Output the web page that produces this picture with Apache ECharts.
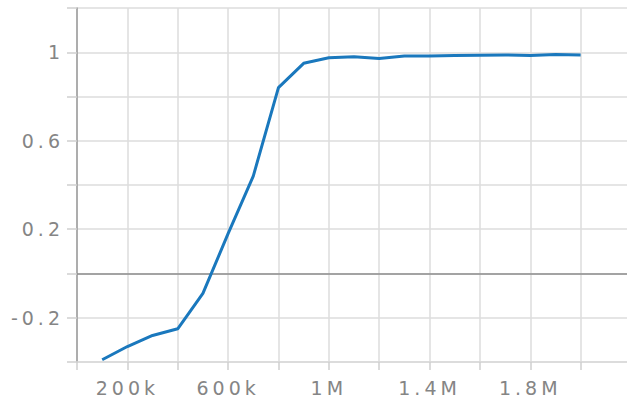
<!DOCTYPE html>
<html>
<head>
<meta charset="utf-8">
<script src="https://cdn.jsdelivr.net/npm/echarts@6/dist/echarts.min.js"></script>
<style>
  html, body { margin: 0; padding: 0; background: #fff; }
  #chart { width: 627px; height: 405px; }
  #chart svg text { letter-spacing: 4px; }
</style>
</head>
<body>
<div id="chart"></div>
<script>
// steps and values
const steps = [100000, 200000, 300000, 400000, 500000, 600000, 700000, 800000, 900000, 1000000,
  1100000, 1200000, 1300000, 1400000, 1500000, 1600000, 1700000, 1800000, 1900000, 2000000]
const values = [-0.39, -0.33, -0.28, -0.25, -0.09, 0.18, 0.44, 0.84, 0.95, 0.975,
  0.98, 0.972, 0.983, 0.983, 0.985, 0.987, 0.988, 0.985, 0.99, 0.988]
const xLabels = { 200000: '200k', 600000: '600k', 1000000: '1M', 1400000: '1.4M', 1800000: '1.8M' }
const yLabels = { '10': '1', '6': '0.6', '2': '0.2', '-2': '-0.2' }

const chart = echarts.init(document.getElementById('chart'), undefined, { renderer: 'svg' })

const labelFont = {
  color: '#858585',
  fontFamily: 'DejaVu Sans',
  fontSize: 19
}

chart.setOption({
  animation: false,
  backgroundColor: '#fff',
  grid: { left: 77, top: 8, right: -4, bottom: 43, outerBoundsMode: 'none' },
  xAxis: {
    type: 'value',
    min: 0,
    max: 2200000,
    interval: 200000,
    axisLine: { onZero: false, lineStyle: { color: '#d9d9d9', width: 1.5 } },
    axisTick: { show: true, length: 8, lineStyle: { color: '#cfcfcf', width: 1.5 } },
    splitLine: { show: true, lineStyle: { color: '#dcdcdc', width: 1.5 } },
    axisLabel: {
      ...labelFont,
      margin: 16,
      showMaxLabel: false,
      formatter: v => xLabels[v] || ''
    }
  },
  yAxis: {
    type: 'value',
    min: -0.4,
    max: 1.2,
    interval: 0.2,
    axisLine: { show: true, lineStyle: { color: '#9a9a9a', width: 1.5 } },
    axisTick: { show: true, length: 10, lineStyle: { color: '#cfcfcf', width: 1.5 } },
    splitLine: { show: true, lineStyle: { color: '#dcdcdc', width: 1.5 } },
    axisLabel: {
      ...labelFont,
      margin: 13,
      formatter: v => yLabels[String(Math.round(v * 10))] || ''
    }
  },
  series: [
    {
      type: 'line',
      data: steps.map((s, i) => [s, values[i]]),
      showSymbol: false,
      lineStyle: { color: '#1a78bd', width: 3 },
      itemStyle: { color: '#1a78bd' },
      z: 3,
      markLine: {
        silent: true,
        symbol: 'none',
        label: { show: false },
        lineStyle: { color: '#8c8c8c', type: 'solid', width: 1.5 },
        data: [{ yAxis: 0 }],
        z: 2
      }
    }
  ]
})
</script>
</body>
</html>
